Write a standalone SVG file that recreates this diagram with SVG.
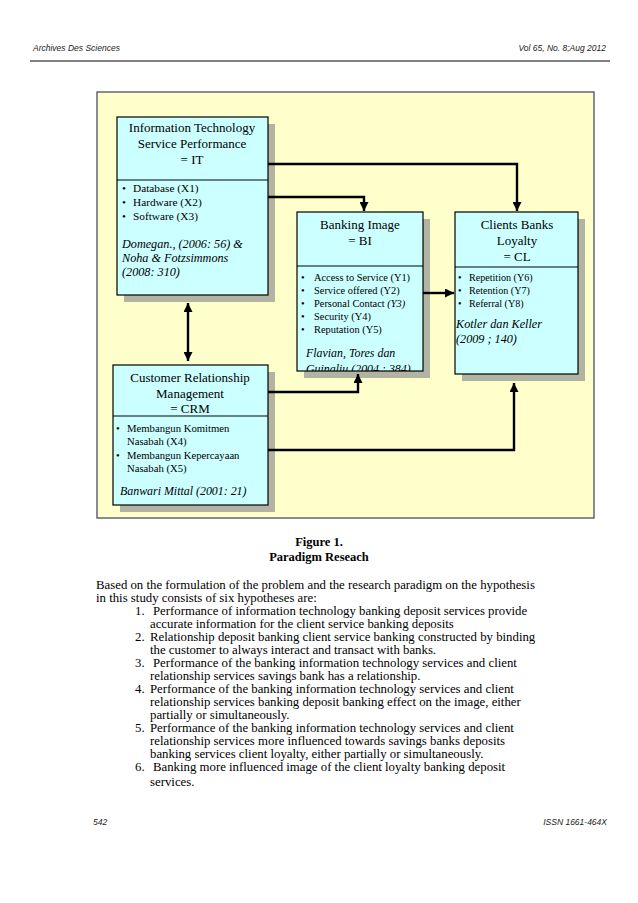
<svg xmlns="http://www.w3.org/2000/svg" width="638" height="903" viewBox="0 0 638 903">
<style>
.serif{font-family:"Liberation Serif","Times New Roman",serif;fill:#000}
.sans{font-family:"Liberation Sans",Arial,sans-serif;font-style:italic;font-size:8.5px;fill:#222}
.title{font-size:13px;text-anchor:middle}
.it{font-style:italic}
.box{fill:#CCFFFF;stroke:#000;stroke-width:1.2}
.shadow{fill:#B3B3A3}
.div{stroke:#000;stroke-width:1.2}
.conn{fill:none;stroke:#000;stroke-width:2.4}
.body{font-size:12.8px}
.cap{font-size:12.5px;font-weight:bold;text-anchor:middle}
.sIT{font-size:11.3px}
.sBI{font-size:10.4px}
.sCL{font-size:10.1px}
.sCRM{font-size:10.7px}
.c122{font-size:12.2px}
.c119{font-size:11.9px}
</style>
<defs>
<marker id="ah" markerUnits="userSpaceOnUse" markerWidth="9" markerHeight="9" refX="9" refY="4.5" orient="auto">
<path d="M0,0 L9,4.5 L0,9 z" fill="#000"/>
</marker>
<marker id="ahs" markerUnits="userSpaceOnUse" markerWidth="9" markerHeight="9" refX="0" refY="4.5" orient="auto">
<path d="M9,0 L0,4.5 L9,9 z" fill="#000"/>
</marker>
<clipPath id="biclip"><rect x="297" y="212" width="126" height="159"/></clipPath>
</defs>
<rect width="638" height="903" fill="#fff"/>

<g id="header">
<text class="sans" x="33" y="51">Archives Des Sciences</text>
<text class="sans" x="606" y="51" text-anchor="end">Vol 65, No. 8;Aug 2012</text>
<line x1="30" y1="61" x2="610" y2="61" stroke="#000" stroke-width="1"/>
</g>

<rect id="frame" x="97" y="92" width="497" height="426" fill="#FFFFCC" stroke="#3A3F5A" stroke-width="1.2"/>

<g id="IT">
<rect class="shadow" x="124" y="124" width="151" height="178"/>
<rect class="box" x="117" y="117" width="151" height="178"/>
<line class="div" x1="117" y1="180" x2="268" y2="180"/>
<text class="serif title" x="192" y="132">Information Technology</text>
<text class="serif title" x="192" y="148">Service Performance</text>
<text class="serif title" x="192" y="164">= IT</text>
<text class="serif sIT" x="122" y="192">•</text><text class="serif sIT" x="133" y="192">Database  (X1)</text>
<text class="serif sIT" x="122" y="206">•</text><text class="serif sIT" x="133" y="206">Hardware  (X2)</text>
<text class="serif sIT" x="122" y="220">•</text><text class="serif sIT" x="133" y="220">Software  (X3)</text>
<text class="serif it c122" x="122" y="248">Domegan., (2006: 56)  &amp;</text>
<text class="serif it c122" x="122" y="262">Noha &amp; Fotzsimmons</text>
<text class="serif it c122" x="122" y="276">(2008: 310)</text>
</g>

<g id="BI">
<rect class="shadow" x="304" y="219" width="126" height="159"/>
<rect class="box" x="297" y="212" width="126" height="159"/>
<line class="div" x1="297" y1="266" x2="423" y2="266"/>
<text class="serif title" x="360" y="229">Banking Image</text>
<text class="serif title" x="360" y="245">= BI</text>
<g clip-path="url(#biclip)">
<text class="serif sBI" x="301" y="281">•</text><text class="serif sBI" x="314" y="281">Access to Service (Y1)</text>
<text class="serif sBI" x="301" y="294">•</text><text class="serif sBI" x="314" y="294">Service offered (Y2)</text>
<text class="serif sBI" x="301" y="307">•</text><text class="serif sBI" x="314" y="307">Personal Contact <tspan font-style="italic">(Y3)</tspan></text>
<text class="serif sBI" x="301" y="320">•</text><text class="serif sBI" x="314" y="320">Security (Y4)</text>
<text class="serif sBI" x="301" y="333">•</text><text class="serif sBI" x="314" y="333">Reputation (Y5)</text>
<text class="serif it c119" x="306" y="357">Flavian, Tores dan</text>
<text class="serif it c119" x="306" y="373">Guinaliu (2004 : 384)</text>
</g>
</g>

<g id="CL">
<rect class="shadow" x="462" y="219" width="123" height="162"/>
<rect class="box" x="455" y="212" width="123" height="162"/>
<line class="div" x1="455" y1="267" x2="578" y2="267"/>
<text class="serif title" x="517" y="229">Clients Banks</text>
<text class="serif title" x="517" y="245">Loyalty</text>
<text class="serif title" x="517" y="261">= CL</text>
<text class="serif sCL" x="458" y="281">•</text><text class="serif sCL" x="469" y="281">Repetition (Y6)</text>
<text class="serif sCL" x="458" y="294">•</text><text class="serif sCL" x="469" y="294">Retention  (Y7)</text>
<text class="serif sCL" x="458" y="307">•</text><text class="serif sCL" x="469" y="307">Referral  (Y8)</text>
<text class="serif it c122" x="456" y="328">Kotler dan Keller</text>
<text class="serif it c122" x="456" y="343"> (2009 ; 140)</text>
</g>

<g id="CRM">
<rect class="shadow" x="120" y="372" width="155" height="140"/>
<rect class="box" x="113" y="365" width="155" height="140"/>
<line class="div" x1="113" y1="416" x2="268" y2="416"/>
<text class="serif title" x="190" y="382">Customer Relationship</text>
<text class="serif title" x="190" y="398">Management</text>
<text class="serif title" x="190" y="413">= CRM</text>
<text class="serif sCRM" x="116" y="432">•</text><text class="serif sCRM" x="127" y="432">Membangun Komitmen</text>
<text class="serif sCRM" x="127" y="445">Nasabah (X4)</text>
<text class="serif sCRM" x="116" y="459">•</text><text class="serif sCRM" x="127" y="459">Membangun Kepercayaan</text>
<text class="serif sCRM" x="127" y="472">Nasabah  (X5)</text>
<text class="serif it c119" x="120" y="495">Banwari Mittal (2001: 21)</text>
</g>

<g id="connectors">
<path class="conn" d="M268,164 H517 V211" marker-end="url(#ah)"/>
<path class="conn" d="M268,197 H364 V211" marker-end="url(#ah)"/>
<path class="conn" d="M188,303 V361" marker-start="url(#ahs)" marker-end="url(#ah)"/>
<path class="conn" d="M423,293 H454" marker-end="url(#ah)"/>
<path class="conn" d="M268,392 H358 V374" marker-end="url(#ah)"/>
<path class="conn" d="M268,450 H514 V383" marker-end="url(#ah)"/>
</g>

<g id="caption">
<text class="serif cap" x="319" y="546">Figure 1.</text>
<text class="serif cap" x="319" y="561">Paradigm Reseach</text>
</g>

<g id="body">
<text class="serif body" x="96" y="589">Based on the formulation of the problem and the research paradigm on the hypothesis</text>
<text class="serif body" x="96" y="602">in this study consists of six hypotheses are:</text>
<text class="serif body" x="135" y="615">1.</text><text class="serif body" x="153" y="615">Performance of information technology banking deposit services provide</text>
<text class="serif body" x="150" y="628">accurate information for the client service banking deposits</text>
<text class="serif body" x="135" y="641">2.</text><text class="serif body" x="150" y="641">Relationship deposit banking client service banking constructed by binding</text>
<text class="serif body" x="150" y="654">the customer to always interact and transact with banks.</text>
<text class="serif body" x="135" y="667">3.</text><text class="serif body" x="153" y="667">Performance of the banking information technology services and client</text>
<text class="serif body" x="150" y="680">relationship services savings bank has a relationship.</text>
<text class="serif body" x="135" y="693">4.</text><text class="serif body" x="150" y="693">Performance of the banking information technology services and client</text>
<text class="serif body" x="150" y="706">relationship services  banking deposit banking effect on the image, either</text>
<text class="serif body" x="150" y="719">partially or simultaneously.</text>
<text class="serif body" x="135" y="732">5.</text><text class="serif body" x="150" y="732">Performance of the banking information technology services and client</text>
<text class="serif body" x="150" y="745">relationship services more influenced towards savings banks deposits</text>
<text class="serif body" x="150" y="758">banking services client loyalty, either partially or simultaneously.</text>
<text class="serif body" x="135" y="771">6.</text><text class="serif body" x="153" y="771">Banking more influenced image of the client loyalty banking deposit</text>
<text class="serif body" x="150" y="786">services.</text>
</g>

<g id="footer">
<text class="sans" x="93" y="825">542</text>
<text class="sans" x="607" y="825" text-anchor="end">ISSN 1661-464X</text>
</g>
</svg>
